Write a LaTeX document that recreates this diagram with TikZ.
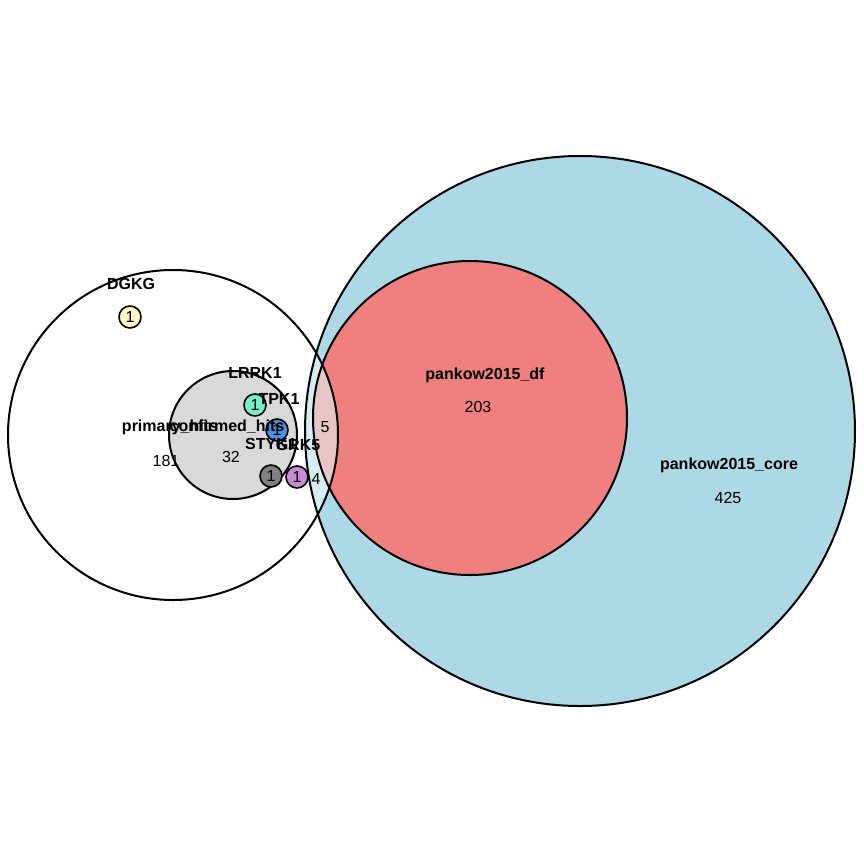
\documentclass[tikz,border=0pt]{standalone}
\usepackage{fontspec}
\setmainfont{Liberation Sans}
\definecolor{corecol}{RGB}{173,216,230}
\definecolor{dfcol}{RGB}{240,128,128}
\definecolor{ovcore}{RGB}{214,235,242}
\definecolor{ovdf}{RGB}{232,197,200}
\definecolor{confcol}{RGB}{217,217,217}
\definecolor{dgkgcol}{RGB}{255,248,196}
\definecolor{lrrkcol}{RGB}{118,238,198}
\definecolor{tpkcol}{RGB}{74,144,226}
\definecolor{stykcol}{RGB}{128,128,128}
\definecolor{grkcol}{RGB}{200,140,210}
\begin{document}
\begin{tikzpicture}[x=0.5pt,y=-0.5pt,
  setname/.style={font=\fontsize{8}{9}\selectfont\bfseries},
  count/.style={font=\fontsize{8}{9}\selectfont},
  outline/.style={draw=black,line width=1pt},
  gene/.style={circle,draw=black,line width=0.8pt,minimum size=11pt,inner sep=0pt,font=\fontsize{8}{9}\selectfont}]
\useasboundingbox (0,0) rectangle (864,864);
\fill[white] (0,0) rectangle (864,864);

\coordinate (core) at (580,431);
\coordinate (df) at (470,418);
\coordinate (prim) at (173,435);
\coordinate (conf) at (233,435);

% big sets
\fill[corecol] (core) circle[radius=137.5pt];
\fill[dfcol] (df) circle[radius=78.5pt];
\begin{scope}
  \clip (prim) circle[radius=82.5pt];
  \fill[ovcore] (core) circle[radius=137.5pt];
  \fill[ovdf] (df) circle[radius=78.5pt];
\end{scope}
\draw[outline] (core) circle[radius=137.5pt];
\draw[outline] (df) circle[radius=78.5pt];
\draw[outline] (prim) circle[radius=82.5pt];
\draw[outline, fill=confcol] (conf) circle[radius=32pt];

% single genes
\node[gene, fill=dgkgcol] (dgkg) at (130,317) {1};
\node[gene, fill=lrrkcol] (lrrk) at (255,405) {1};
\node[gene, fill=tpkcol] (tpk) at (277,430) {1};
\node[gene, fill=stykcol] (styk) at (271,476) {1};
\node[gene, fill=grkcol] (grk) at (297,477) {1};

% set names
\node[setname] (dgkglab) at (131,284) {DGKG};
\node[setname] (lrrklab) at (255,373) {LRRK1};
\node[setname] (tpklab) at (279,399) {TPK1};
\node[setname] (primlab) at (170,427) {primary\_hits};
\node[setname] (conflab) at (227,427) {confirmed\_hits};
\node[setname] (styklab) at (271,444) {STYK1};
\node[setname] (grklab) at (298,445) {GRK5};
\node[setname] (dflab) at (485,375) {pankow2015\_df};
\node[setname] (corelab) at (729,465) {pankow2015\_core};

% counts
\node[count] (n181) at (166,461) {181};
\node[count] (n32) at (231,457) {32};
\node[count] (n5) at (325,427) {5};
\node[count] (n4) at (316,479) {4};
\node[count] (n203) at (478,407) {203};
\node[count] (n425) at (728,498) {425};
\end{tikzpicture}
\end{document}
